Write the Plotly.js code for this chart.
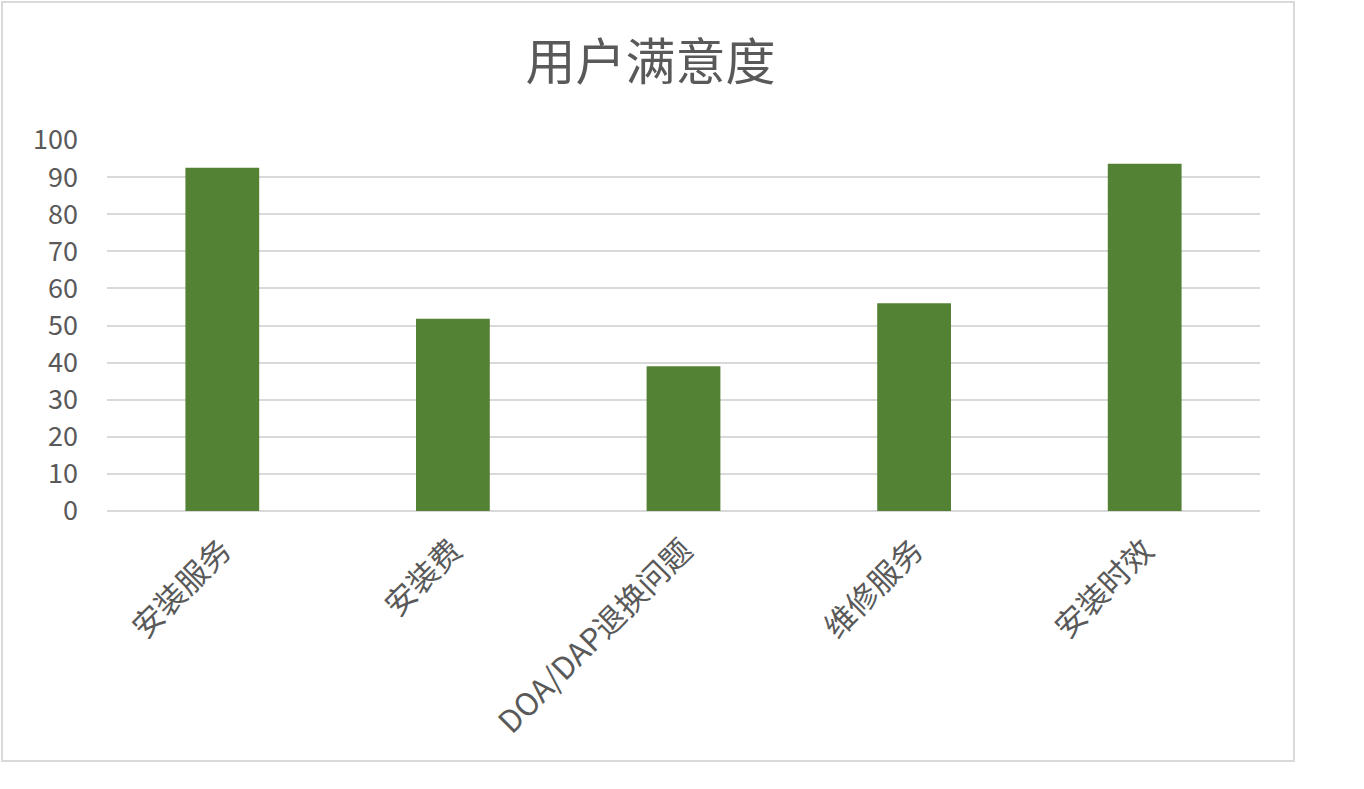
<!DOCTYPE html>
<html>
<head>
<meta charset="utf-8">
<script src="https://cdn.plot.ly/plotly-3.0.1.min.js"></script>
<style>
  html, body { margin: 0; padding: 0; background: #fff; }
  #frame {
    position: absolute; left: 1px; top: 1px;
    width: 1294px; height: 761px;
    box-sizing: border-box;
    border: 2px solid #d9d9d9;
  }
  #chart { width: 1290px; height: 757px; }
</style>
</head>
<body>
<div id="frame"><div id="chart"></div></div>
<script>
// 类别和数值
const categories = ["安装服务", "安装费", "DOA/DAP退换问题", "维修服务", "安装时效"];
const satisfaction = [92.5, 51.8, 39, 56, 93.6];
const yTicks = [0, 10, 20, 30, 40, 50, 60, 70, 80, 90, 100];

const fontFamily = '"Noto Sans CJK SC", "Noto Sans", sans-serif';
const textColor = "#595959";

Plotly.newPlot("chart", [
  {
    x: categories,
    y: satisfaction,
    type: "bar",
    marker: { color: "#548235" },
    hoverinfo: "x+y"
  }
], {
  width: 1290,
  height: 757,
  margin: { l: 104, r: 33, t: 137, b: 249 },
  paper_bgcolor: "#fff",
  plot_bgcolor: "#fff",
  bargap: 0.68,
  showlegend: false,
  font: { family: fontFamily, color: textColor, size: 27 },
  title: {
    text: "用户满意度",
    font: { family: fontFamily, size: 50, color: textColor },
    x: 0.502,
    xanchor: "center",
    xref: "container",
    y: 0.922,
    yref: "container",
    yanchor: "middle"
  },
  xaxis: {
    type: "category",
    tickangle: -45,
    showgrid: false,
    showline: false,
    ticks: "",
    ticklabelstandoff: 14,
    tickfont: { size: 31, color: textColor }
  },
  yaxis: {
    range: [0, 100],
    tickvals: yTicks,
    showgrid: true,
    gridcolor: "#d9d9d9",
    gridwidth: 2,
    zeroline: true,
    zerolinecolor: "#d9d9d9",
    zerolinewidth: 2,
    showline: false,
    ticks: "",
    ticklabelstandoff: 28,
    tickfont: { size: 27, color: textColor }
  }
}, { displayModeBar: false, staticPlot: true });
</script>
</body>
</html>
